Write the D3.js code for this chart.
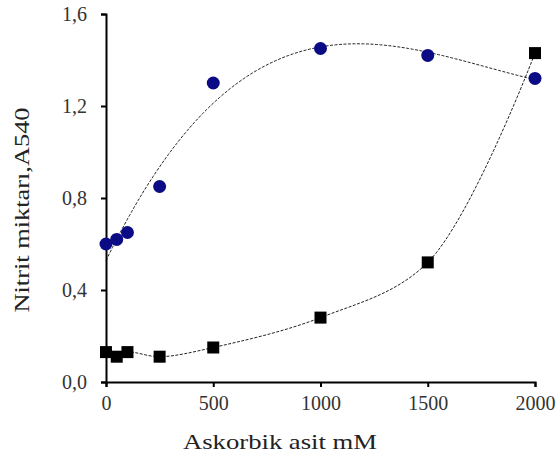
<!DOCTYPE html>
<html>
<head>
<meta charset="utf-8">
<script src="https://cdn.jsdelivr.net/npm/d3@7"></script>
<style>
  html, body { margin: 0; padding: 0; background: #fff; }
  svg { display: block; }
</style>
</head>
<body>
<svg id="chart" width="559" height="463"></svg>
<script>
// Ascorbic acid concentration (mM) and nitrite absorbance (A540)
const concentrations = [0, 50, 100, 250, 500, 1000, 1500, 2000];
const circleSeries = [0.60, 0.62, 0.65, 0.85, 1.30, 1.45, 1.42, 1.32];
const squareSeries = [0.13, 0.11, 0.13, 0.11, 0.15, 0.28, 0.52, 1.43];
const xTicks = [0, 500, 1000, 1500, 2000];
const yTicks = [0.0, 0.4, 0.8, 1.2, 1.6];

const svg = d3.select("#chart");
const margin = { left: 106, right: 24, top: 14, bottom: 81 };
const W = 559, H = 463;

const x = d3.scaleLinear().domain([0, 2000]).range([margin.left, W - margin.right]);
const y = d3.scaleLinear().domain([0, 1.6]).range([H - margin.bottom, margin.top]);

// Least-squares polynomial trend line
function polyFit(xs, ys, deg) {
  const n = deg + 1;
  const A = Array.from({ length: n }, () => new Array(n + 1).fill(0));
  xs.forEach((xv, k) => {
    const t = xv / 1000;
    for (let i = 0; i < n; i++) {
      for (let j = 0; j < n; j++) A[i][j] += Math.pow(t, i + j);
      A[i][n] += ys[k] * Math.pow(t, i);
    }
  });
  for (let c = 0; c < n; c++) {
    let p = c;
    for (let r = c + 1; r < n; r++) if (Math.abs(A[r][c]) > Math.abs(A[p][c])) p = r;
    [A[c], A[p]] = [A[p], A[c]];
    for (let r = 0; r < n; r++) {
      if (r === c) continue;
      const f = A[r][c] / A[c][c];
      for (let k = c; k <= n; k++) A[r][k] -= f * A[c][k];
    }
  }
  const coef = A.map((row, i) => row[n] / row[i]);
  return xv => coef.reduce((s, cf, i) => s + cf * Math.pow(xv / 1000, i), 0);
}

const fitCircle = polyFit(concentrations, circleSeries, 3);
const samples = d3.range(0, 2001, 10);

const dash = "3,1.5";
// Circle series: cubic trend line
svg.append("path")
  .attr("d", d3.line().x(d => x(d[0])).y(d => y(d[1]))(samples.map(v => [v, fitCircle(v)])))
  .attr("fill", "none").attr("stroke", "#222").attr("stroke-width", 1)
  .attr("stroke-dasharray", dash);
// Square series: smoothed line through the points
svg.append("path")
  .attr("d", d3.line().curve(d3.curveCatmullRom.alpha(0.5))
    .x((d, i) => x(concentrations[i])).y(d => y(d))(squareSeries))
  .attr("fill", "none").attr("stroke", "#222").attr("stroke-width", 1)
  .attr("stroke-dasharray", dash);

// Axes
const font = "'Liberation Serif', 'Times New Roman', serif";
const xAxis = svg.append("g")
  .attr("transform", `translate(0,${y(0)})`)
  .call(d3.axisBottom(x).tickValues(xTicks).tickSize(5).tickPadding(9).tickFormat(d3.format("d")));
const yAxis = svg.append("g")
  .attr("transform", `translate(${x(0)},0)`)
  .call(d3.axisLeft(y).tickValues(yTicks).tickSize(5).tickPadding(14)
    .tickFormat(d => d3.format(".1f")(d).replace(".", ",")));

[xAxis, yAxis].forEach(g => {
  g.select(".domain").attr("stroke", "#000").attr("stroke-width", 2);
  g.selectAll(".tick line").attr("stroke", "#000").attr("stroke-width", 2);
  g.selectAll(".tick text").attr("fill", "#333")
    .style("font-family", font).style("font-size", "20px");
});

// Markers
svg.append("g").selectAll("circle")
  .data(concentrations)
  .join("circle")
  .attr("cx", (d) => x(d))
  .attr("cy", (d, i) => y(circleSeries[i]))
  .attr("r", 6.5)
  .attr("fill", "#0b0b86");

const sq = 12;
svg.append("g").selectAll("rect")
  .data(concentrations)
  .join("rect")
  .attr("x", d => x(d) - sq / 2)
  .attr("y", (d, i) => y(squareSeries[i]) - sq / 2)
  .attr("width", sq).attr("height", sq)
  .attr("fill", "#000");

// Titles
svg.append("text")
  .attr("x", 280).attr("y", 449)
  .attr("text-anchor", "middle")
  .attr("textLength", 194).attr("lengthAdjust", "spacingAndGlyphs")
  .style("font-family", font).style("font-size", "22px").attr("fill", "#222")
  .text("Askorbik asit mM");

svg.append("text")
  .attr("transform", `translate(29,210) rotate(-90)`)
  .attr("text-anchor", "middle")
  .attr("textLength", 205).attr("lengthAdjust", "spacingAndGlyphs")
  .style("font-family", font).style("font-size", "22px").attr("fill", "#222")
  .text("Nitrit miktarı,A540");
</script>
</body>
</html>
